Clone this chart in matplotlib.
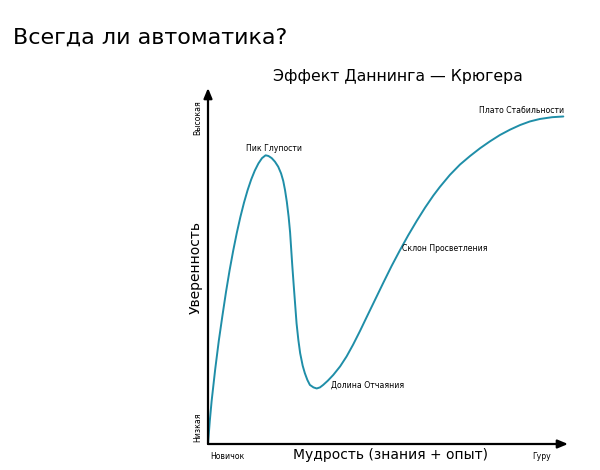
import matplotlib
matplotlib.use('Agg')
import matplotlib.pyplot as plt

# Dunning-Kruger curve, points (0..100 scales)
wisdom = [0.0, 0.5, 1.0, 1.5, 2.0, 3.0, 4.0, 5.0, 6.0, 7.0, 8.0, 9.0, 10.0, 11.0, 12.0,
          13.0, 14.0, 15.0, 16.0, 16.8, 17.7, 18.6, 19.5, 20.3, 20.9, 21.4, 21.9, 22.4,
          22.8, 23.4, 23.8, 24.2, 24.6, 25.1, 25.6, 26.3, 26.9, 27.6, 28.3, 29.3, 30.2,
          31.1, 32.0, 33.3, 34.8, 36.7, 38.5, 40.3, 42.2, 44.1, 46.4, 48.7, 51.0, 53.3,
          55.6, 58.0, 60.3, 62.6, 64.4, 67.2, 70.0, 72.8, 75.6, 78.3, 81.1, 83.9, 86.7,
          89.4, 92.2, 95.6, 98.7]
confidence = [0.0, 6.5, 12.0, 16.5, 21.0, 29.0, 36.0, 42.7, 48.8, 54.3, 59.3, 63.8, 67.8,
              71.3, 74.3, 76.8, 78.8, 80.3, 81.1, 80.9, 80.3, 79.3, 77.9, 76.0, 73.9, 71.3,
              68.0, 63.8, 59.5, 50.3, 44.7, 39.3, 33.9, 29.2, 25.5, 22.0, 19.9, 18.0, 16.6,
              15.9, 15.6, 15.9, 16.6, 17.8, 19.4, 21.8, 24.6, 27.9, 31.7, 35.7, 40.5, 45.3,
              50.0, 54.4, 58.6, 62.7, 66.4, 69.8, 72.2, 75.6, 78.5, 80.9, 83.1, 85.0, 86.8,
              88.3, 89.6, 90.6, 91.3, 91.8, 92.0]

stage_labels = ['Пик Глупости', 'Долина Отчаяния', 'Склон Просветления', 'Плато Стабильности']

fig = plt.figure(figsize=(6, 4.7), dpi=100)
ax = fig.add_axes([208 / 600, 26 / 470, 360 / 600, 356 / 470])
ax.set_xlim(0, 100)
ax.set_ylim(0, 100)
ax.axis('off')

ax.plot(wisdom, confidence, color='#1f8ea8', lw=1.4, solid_joinstyle='round',
        solid_capstyle='round')

# axes with arrows
arrow = dict(arrowstyle='-|>,head_length=0.6,head_width=0.25', lw=1.6, color='black',
             shrinkA=0, shrinkB=0)
ax.annotate('', xy=(0, 100), xytext=(0, 0), arrowprops=arrow, annotation_clip=False)
ax.annotate('', xy=(100, 0), xytext=(0, 0), arrowprops=arrow, annotation_clip=False)

small = 5.6
ax.text(18.2, 83.1, stage_labels[0], fontsize=small, ha='center', va='center')
ax.text(34.2, 16.6, stage_labels[1], fontsize=small, ha='left', va='center')
ax.text(53.9, 54.8, stage_labels[2], fontsize=small, ha='left', va='center')
ax.text(87.2, 93.8, stage_labels[3], fontsize=small, ha='center', va='center')

ax.text(-2.8, 91.6, 'Высокая', fontsize=small, rotation=90, ha='center', va='center', clip_on=False)
ax.text(-2.8, 4.8, 'Низкая', fontsize=small, rotation=90, ha='center', va='center', clip_on=False)
ax.text(-3.3, 49.7, 'Уверенность', fontsize=10, rotation=90, ha='center', va='center', clip_on=False)
ax.text(5.3, -3.4, 'Новичок', fontsize=small, ha='center', va='center', clip_on=False)
ax.text(92.8, -3.4, 'Гуру', fontsize=small, ha='center', va='center', clip_on=False)
ax.text(50.8, -3.1, 'Мудрость (знания + опыт)', fontsize=10, ha='center', va='center', clip_on=False)

fig.text(398 / 600, 1 - 77 / 470, 'Эффект Даннинга — Крюгера', fontsize=11.3,
         ha='center', va='center')
fig.text(13 / 600, 1 - 38 / 470, 'Всегда ли автоматика?', fontsize=16,
         ha='left', va='center')

fig.savefig('out.png', dpi=100)
